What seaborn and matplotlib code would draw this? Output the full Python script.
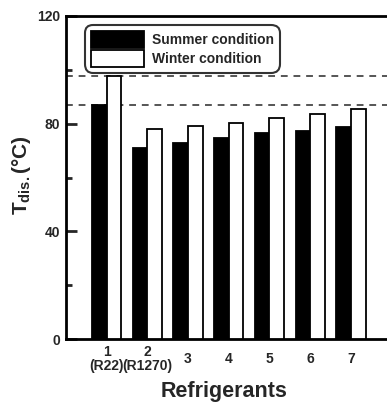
import matplotlib
matplotlib.use("Agg")
import matplotlib.pyplot as plt
import seaborn as sns
import pandas as pd
from matplotlib.ticker import MultipleLocator

# ---- data ----
refrigerants = ["1", "2", "3", "4", "5", "6", "7"]
tick_labels = ["1\n(R22)", "2\n(R1270)", "3", "4", "5", "6", "7"]
conditions = ["Summer condition", "Winter condition"]
summer = [87.0, 71.0, 73.0, 74.8, 76.7, 77.3, 78.9]
winter = [97.8, 78.0, 79.1, 80.4, 82.0, 83.5, 85.4]

sns.set_style("white")
plt.rcParams["font.family"] = ["Liberation Sans", "DejaVu Sans"]
plt.rcParams["font.weight"] = "bold"
plt.rcParams["mathtext.fontset"] = "custom"
plt.rcParams["mathtext.rm"] = "Liberation Sans:bold"
plt.rcParams["mathtext.it"] = "Liberation Sans:bold"
plt.rcParams["mathtext.bf"] = "Liberation Sans:bold"

df = pd.DataFrame({
    "Refrigerant": refrigerants * 2,
    "Condition": [conditions[0]] * len(summer) + [conditions[1]] * len(winter),
    "Value": summer + winter,
})

fig = plt.figure(figsize=(3.87, 4.03), dpi=100)
ax = fig.add_axes([0.1705, 0.1588, 0.8413, 0.8015])

sns.barplot(data=df, x="Refrigerant", y="Value", hue="Condition",
            order=refrigerants, hue_order=conditions,
            palette={conditions[0]: "black", conditions[1]: "white"},
            edgecolor="black", linewidth=1.3, width=0.72,
            errorbar=None, ax=ax, zorder=3)

# dashed reference lines at refrigerant 1 levels
for v in (summer[0], winter[0]):
    ax.axhline(v, color="#555555", linestyle=(0, (3.5, 3)), linewidth=1.4, zorder=1)

ax.set_xlim(-1, 7)
ax.set_ylim(0, 120)
ax.yaxis.set_major_locator(MultipleLocator(40))
ax.yaxis.set_minor_locator(MultipleLocator(20))
ax.tick_params(axis="y", which="major", direction="in", length=8, width=2,
               labelsize=10, pad=4, left=True)
ax.tick_params(axis="y", which="minor", direction="in", length=4.5, width=2, left=True)
ax.set_xticks(range(len(refrigerants)))
ax.set_xticklabels(tick_labels, fontsize=10, fontweight="bold", linespacing=0.95)
ax.tick_params(axis="x", length=0, pad=14.5)
for lab in ax.get_xticklabels():
    lab.set_va("center")
for lab in ax.get_yticklabels():
    lab.set_fontweight("bold")

for s in ax.spines.values():
    s.set_linewidth(2)
    s.set_color("black")

ax.set_xlabel("Refrigerants", fontsize=15.5, fontweight="bold")
ax.xaxis.set_label_coords(0.484, -0.130)
ax.set_ylabel(r"T$_{\mathrm{dis.}}$(°C)", fontsize=15, fontweight="bold")
ax.yaxis.set_label_coords(-0.138, 0.506)
ax.yaxis.label.set_va("center")

handles, labels = ax.get_legend_handles_labels()
leg = ax.legend(handles, labels, loc="upper left", bbox_to_anchor=(0.058, 0.972),
                frameon=True, fancybox=True, prop={"weight": "bold", "size": 10},
                handlelength=3.8, handleheight=1.5, labelspacing=0.1,
                handletextpad=0.55, borderpad=0.45, borderaxespad=0)
leg.get_frame().set_edgecolor("black")
leg.get_frame().set_linewidth(1.5)
leg.get_frame().set_boxstyle("round,pad=0,rounding_size=0.6")
leg.set_zorder(5)

fig.savefig("out.png", dpi=100)
